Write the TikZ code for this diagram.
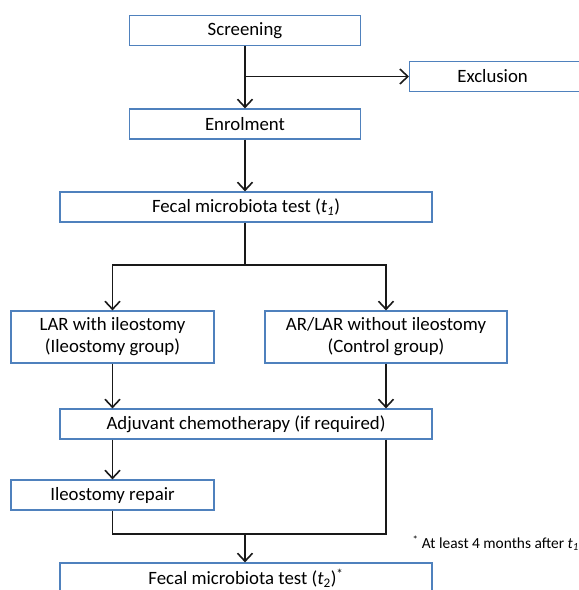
\documentclass[tikz,border=0pt]{standalone}
\usepackage{fontspec}
\setmainfont{Carlito}
\usetikzlibrary{arrows.meta,positioning}
\definecolor{boxblue}{RGB}{79,129,189}
\definecolor{linegray}{RGB}{25,25,25}
\tikzset{stage/.style={draw=boxblue,line width=1.2pt,fill=white,inner sep=0pt,
    minimum height=30pt,align=center,font=\fontsize{18.8}{22}\selectfont}}
\tikzset{flow/.style={draw=linegray,line width=1.6pt}}
\newcommand{\tsub}[1]{\textit{t}\textsubscript{\textit{#1}}}
\begin{document}
\begin{tikzpicture}[%
		x = 1pt, y = -1pt, % pixel like units
		> = {Straight Barb[length=8pt,width=15pt,line width=1.6pt]}, % arrow head style
		]
		\useasboundingbox (0,0) rectangle (579,590);
		
		% Stages
		\node[stage, minimum width=231pt] (scr) at (245,30.5) {Screening};
		\node[stage, minimum width=190pt, anchor=west] (excl) at (409,76.5) {\hspace*{-24pt}Exclusion};
		\node[stage, minimum width=231pt] (enrol) at (245,124) {Enrolment};
		\node[stage, minimum width=372pt] (testa) at (246,207) {Fecal microbiota test (\tsub{1})};
		\node[stage, minimum width=203pt, minimum height=52pt] (lar) at (112.5,337) {LAR with ileostomy\\(Ileostomy group)};
		\node[stage, minimum width=242pt, minimum height=52pt] (ctrl) at (386,337) {AR/LAR without ileostomy\\(Control group)};
		\node[stage, minimum width=372pt] (adj) at (246,424) {Adjuvant chemotherapy (if required)};
		\node[stage, minimum width=203pt] (ileo) at (112.5,495) {Ileostomy repair};
		\node[stage, minimum width=372pt] (testb) at (246,578) {Fecal microbiota test (\textit{t}\textsubscript{2})\textsuperscript{*}};
		\node[anchor=east, inner sep=0pt, font=\fontsize{15.4}{18}\selectfont] (note) at (579,543) {\textsuperscript{*} At least 4 months after \tsub{1}};
		
		% Junction points
		\coordinate (split) at (scr.south |- excl.west);
		\coordinate (fork) at (245,265);
		\coordinate (join) at (245,534);
		
		% Screening
		\draw[flow,->] (scr.south) -- (enrol.north);
		\draw[flow,->] (split) -- (excl.west);
		\draw[flow,->] (enrol.south) -- (enrol.south |- testa.north);
		
		% Groups
		\draw[flow] (fork |- testa.south) -- (fork);
		\draw[flow,->] (fork) -| (lar.north);
		\draw[flow,->] (fork) -| (ctrl.north);
		\draw[flow,->] (lar.south) -- (lar.south |- adj.north);
		\draw[flow,->] (ctrl.south) -- (ctrl.south |- adj.north);
		
		% Follow up
		\draw[flow,->] (ileo.north |- adj.south) -- (ileo.north);
		\draw[flow] (ileo.south) |- (join);
		\draw[flow] (ctrl.south |- adj.south) |- (join);
		\draw[flow,->] (join) -- (join |- testb.north);
\end{tikzpicture}
\end{document}
